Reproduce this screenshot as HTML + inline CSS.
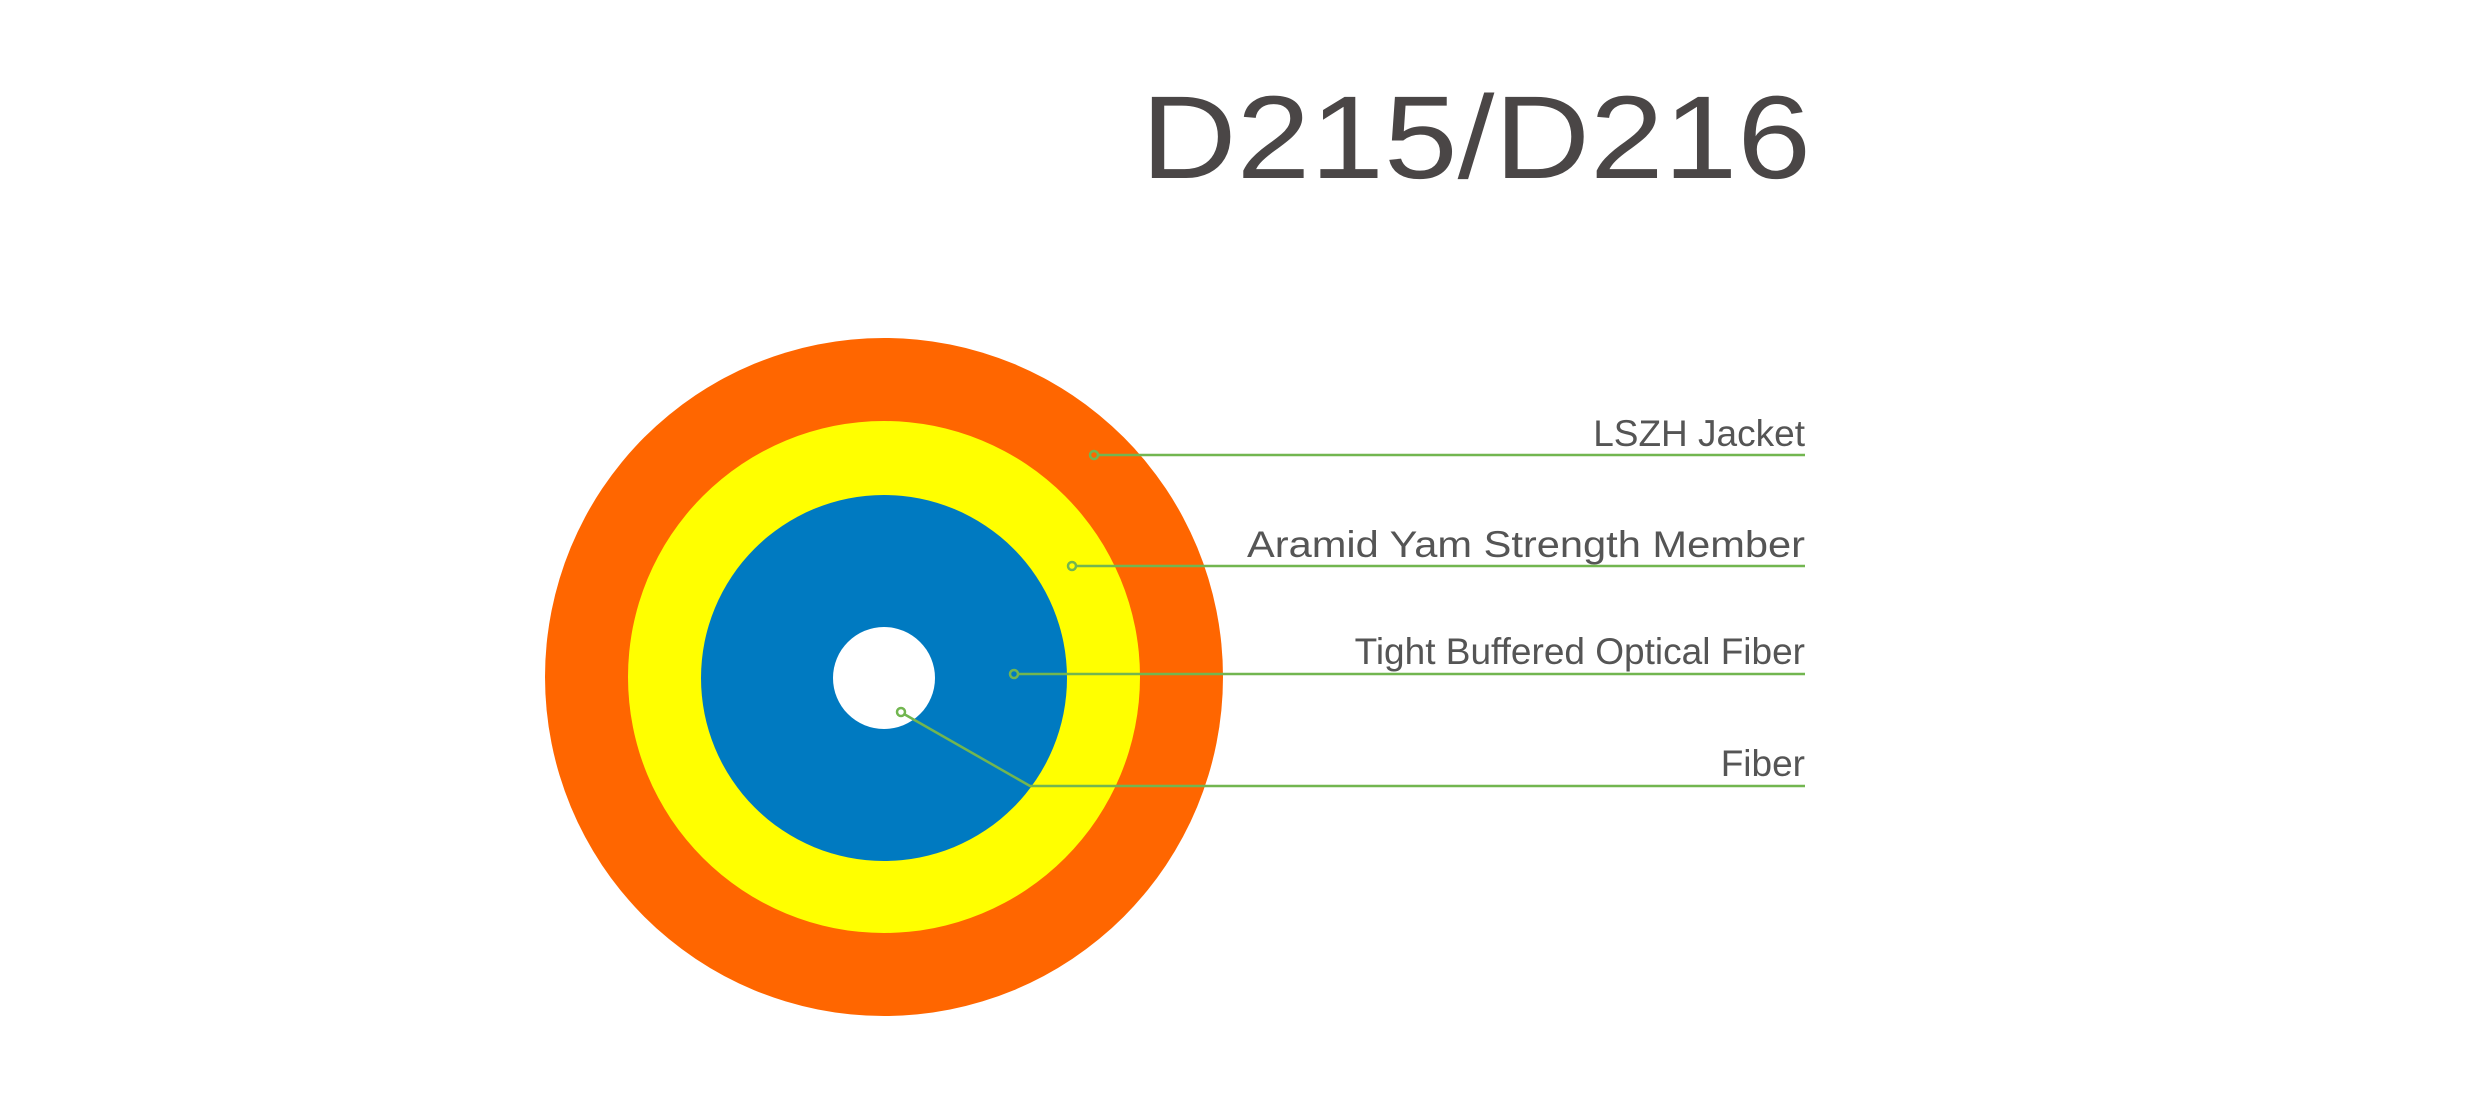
<!DOCTYPE html>
<html><head><meta charset="utf-8"><style>html,body{margin:0;padding:0;background:#fff;}svg{display:block}</style></head>
<body>
<svg width="2480" height="1098" viewBox="0 0 2480 1098" xmlns="http://www.w3.org/2000/svg">
<rect width="2480" height="1098" fill="#fff"/>
<text x="1141" y="178" font-family="Liberation Sans, DejaVu Sans, sans-serif" font-size="118" fill="#4a4646" textLength="670" lengthAdjust="spacingAndGlyphs">D215/D216</text>
<circle cx="884" cy="677" r="339" fill="#ff6600"/>
<circle cx="884" cy="677" r="256" fill="#ffff00"/>
<circle cx="884" cy="678" r="183" fill="#007ac1"/>
<circle cx="884" cy="678" r="51" fill="#fff"/>
<g stroke="#72b650" stroke-width="2.5" fill="none">
<line x1="1098" y1="455" x2="1805" y2="455"/>
<circle cx="1094" cy="455" r="4"/>
<line x1="1076" y1="566" x2="1805" y2="566"/>
<circle cx="1072" cy="566" r="4"/>
<line x1="1018" y1="674" x2="1805" y2="674"/>
<circle cx="1014" cy="674" r="4"/>
<polyline points="904,714 1030,786 1805,786"/>
<circle cx="901" cy="712" r="4"/>
</g>
<g font-family="Liberation Sans, sans-serif" font-size="37" fill="#555" text-anchor="end">
<text x="1805" y="446">LSZH Jacket</text>
<text x="1805" y="557" textLength="558" lengthAdjust="spacingAndGlyphs">Aramid Yam Strength Member</text>
<text x="1805" y="664">Tight Buffered Optical Fiber</text>
<text x="1805" y="776">Fiber</text>
</g>
</svg>
</body></html>
